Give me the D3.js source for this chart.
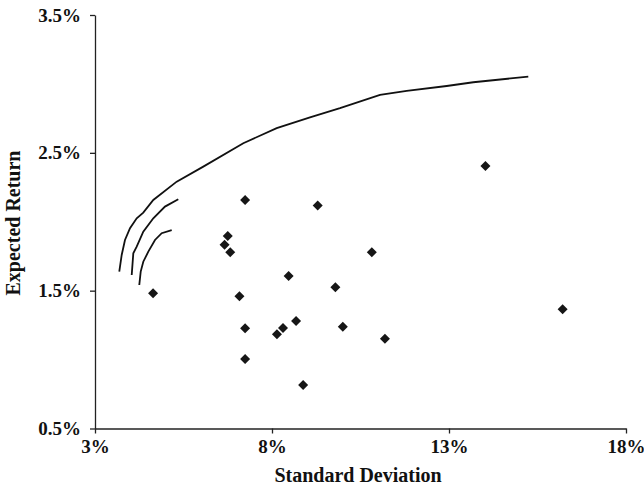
<!DOCTYPE html>
<html>
<head>
<meta charset="utf-8">
<script src="https://cdn.jsdelivr.net/npm/d3@7"></script>
<style>
  html, body { margin: 0; padding: 0; background: #fff; }
  svg { display: block; }
  .tick text, .lbl { font-family: "Liberation Serif", "Times New Roman", serif; font-weight: bold; fill: #111; }
</style>
</head>
<body>
<svg id="chart" width="644" height="489"></svg>
<script>
// ---- data ----
const xTicks = [3, 8, 13, 18];
const yTicks = [0.5, 1.5, 2.5, 3.5];

// efficient frontier curves (x = std dev %, y = expected return %)
const frontierOuterX = [3.686, 3.754, 3.847, 3.989, 4.178, 4.364, 4.647, 5.308, 6.059, 7.189, 8.133, 9.073, 9.921, 11.051, 11.805, 12.935, 13.686, 15.240];
const frontierOuterY = [1.638, 1.759, 1.868, 1.953, 2.025, 2.066, 2.158, 2.291, 2.400, 2.570, 2.679, 2.758, 2.824, 2.920, 2.949, 2.985, 3.012, 3.053];
const frontierMiddleX = [4.037, 4.082, 4.178, 4.364, 4.647, 4.977, 5.353];
const frontierMiddleY = [1.614, 1.771, 1.819, 1.928, 2.025, 2.110, 2.163];
const frontierInnerX = [4.251, 4.291, 4.364, 4.506, 4.695, 4.884, 5.167];
const frontierInnerY = [1.541, 1.638, 1.710, 1.783, 1.868, 1.917, 1.940];

// individual assets
const assetSD  = [7.24, 9.29, 6.75, 6.66, 6.82, 10.82, 8.47, 4.64, 9.79, 7.08, 7.24, 8.31, 8.14, 8.68, 10.00, 11.19, 7.24, 14.03, 16.21, 8.88];
const assetRet = [2.158, 2.117, 1.897, 1.834, 1.779, 1.779, 1.607, 1.481, 1.525, 1.459, 1.227, 1.229, 1.184, 1.280, 1.239, 1.152, 1.004, 2.405, 1.365, 0.816];

const xTitle = "Standard Deviation";
const yTitle = "Expected Return";

// ---- chart ----
const svg = d3.select("#chart");
const x = d3.scaleLinear().domain([3, 18]).range([95, 626]);
const y = d3.scaleLinear().domain([0.5, 3.5]).range([428.5, 15]);

const xAxis = d3.axisBottom(x).tickValues(xTicks).tickFormat(d => d + "%").tickSizeInner(5).tickSizeOuter(0).tickPadding(6);
const yAxis = d3.axisLeft(y).tickValues(yTicks).tickFormat(d => d3.format(".1f")(d) + "%").tickSizeInner(5).tickSizeOuter(0).tickPadding(9);

const gx = svg.append("g").attr("transform", `translate(0,${y(0.5)})`).call(xAxis);
const gy = svg.append("g").attr("transform", `translate(${x(3)},0)`).call(yAxis);
[gx, gy].forEach(g => {
  g.selectAll("path.domain, .tick line").attr("stroke", "#222").attr("stroke-width", 1.3);
  g.selectAll(".tick text").attr("font-size", 19).attr("fill", "#111");
});

svg.append("text").attr("class", "lbl")
  .attr("x", 358).attr("y", 482).attr("text-anchor", "middle")
  .attr("font-size", 20).text(xTitle);
svg.append("text").attr("class", "lbl")
  .attr("transform", "translate(20,223) rotate(-90)").attr("text-anchor", "middle")
  .attr("font-size", 20).text(yTitle);

const line = d3.line().x(d => x(d[0])).y(d => y(d[1]));
[[frontierOuterX, frontierOuterY], [frontierMiddleX, frontierMiddleY], [frontierInnerX, frontierInnerY]].forEach(([xs, ys]) => {
  svg.append("path")
    .datum(xs.map((v, i) => [v, ys[i]]))
    .attr("d", line)
    .attr("fill", "none")
    .attr("stroke", "#111")
    .attr("stroke-width", 1.8);
});

const sym = d3.symbol().type(d3.symbolSquare).size(50);
svg.append("g").selectAll("path")
  .data(assetSD.map((v, i) => [v, assetRet[i]]))
  .join("path")
  .attr("d", sym)
  .attr("transform", d => `translate(${x(d[0])},${y(d[1])}) rotate(45)`)
  .attr("fill", "#161616");
</script>
</body>
</html>
